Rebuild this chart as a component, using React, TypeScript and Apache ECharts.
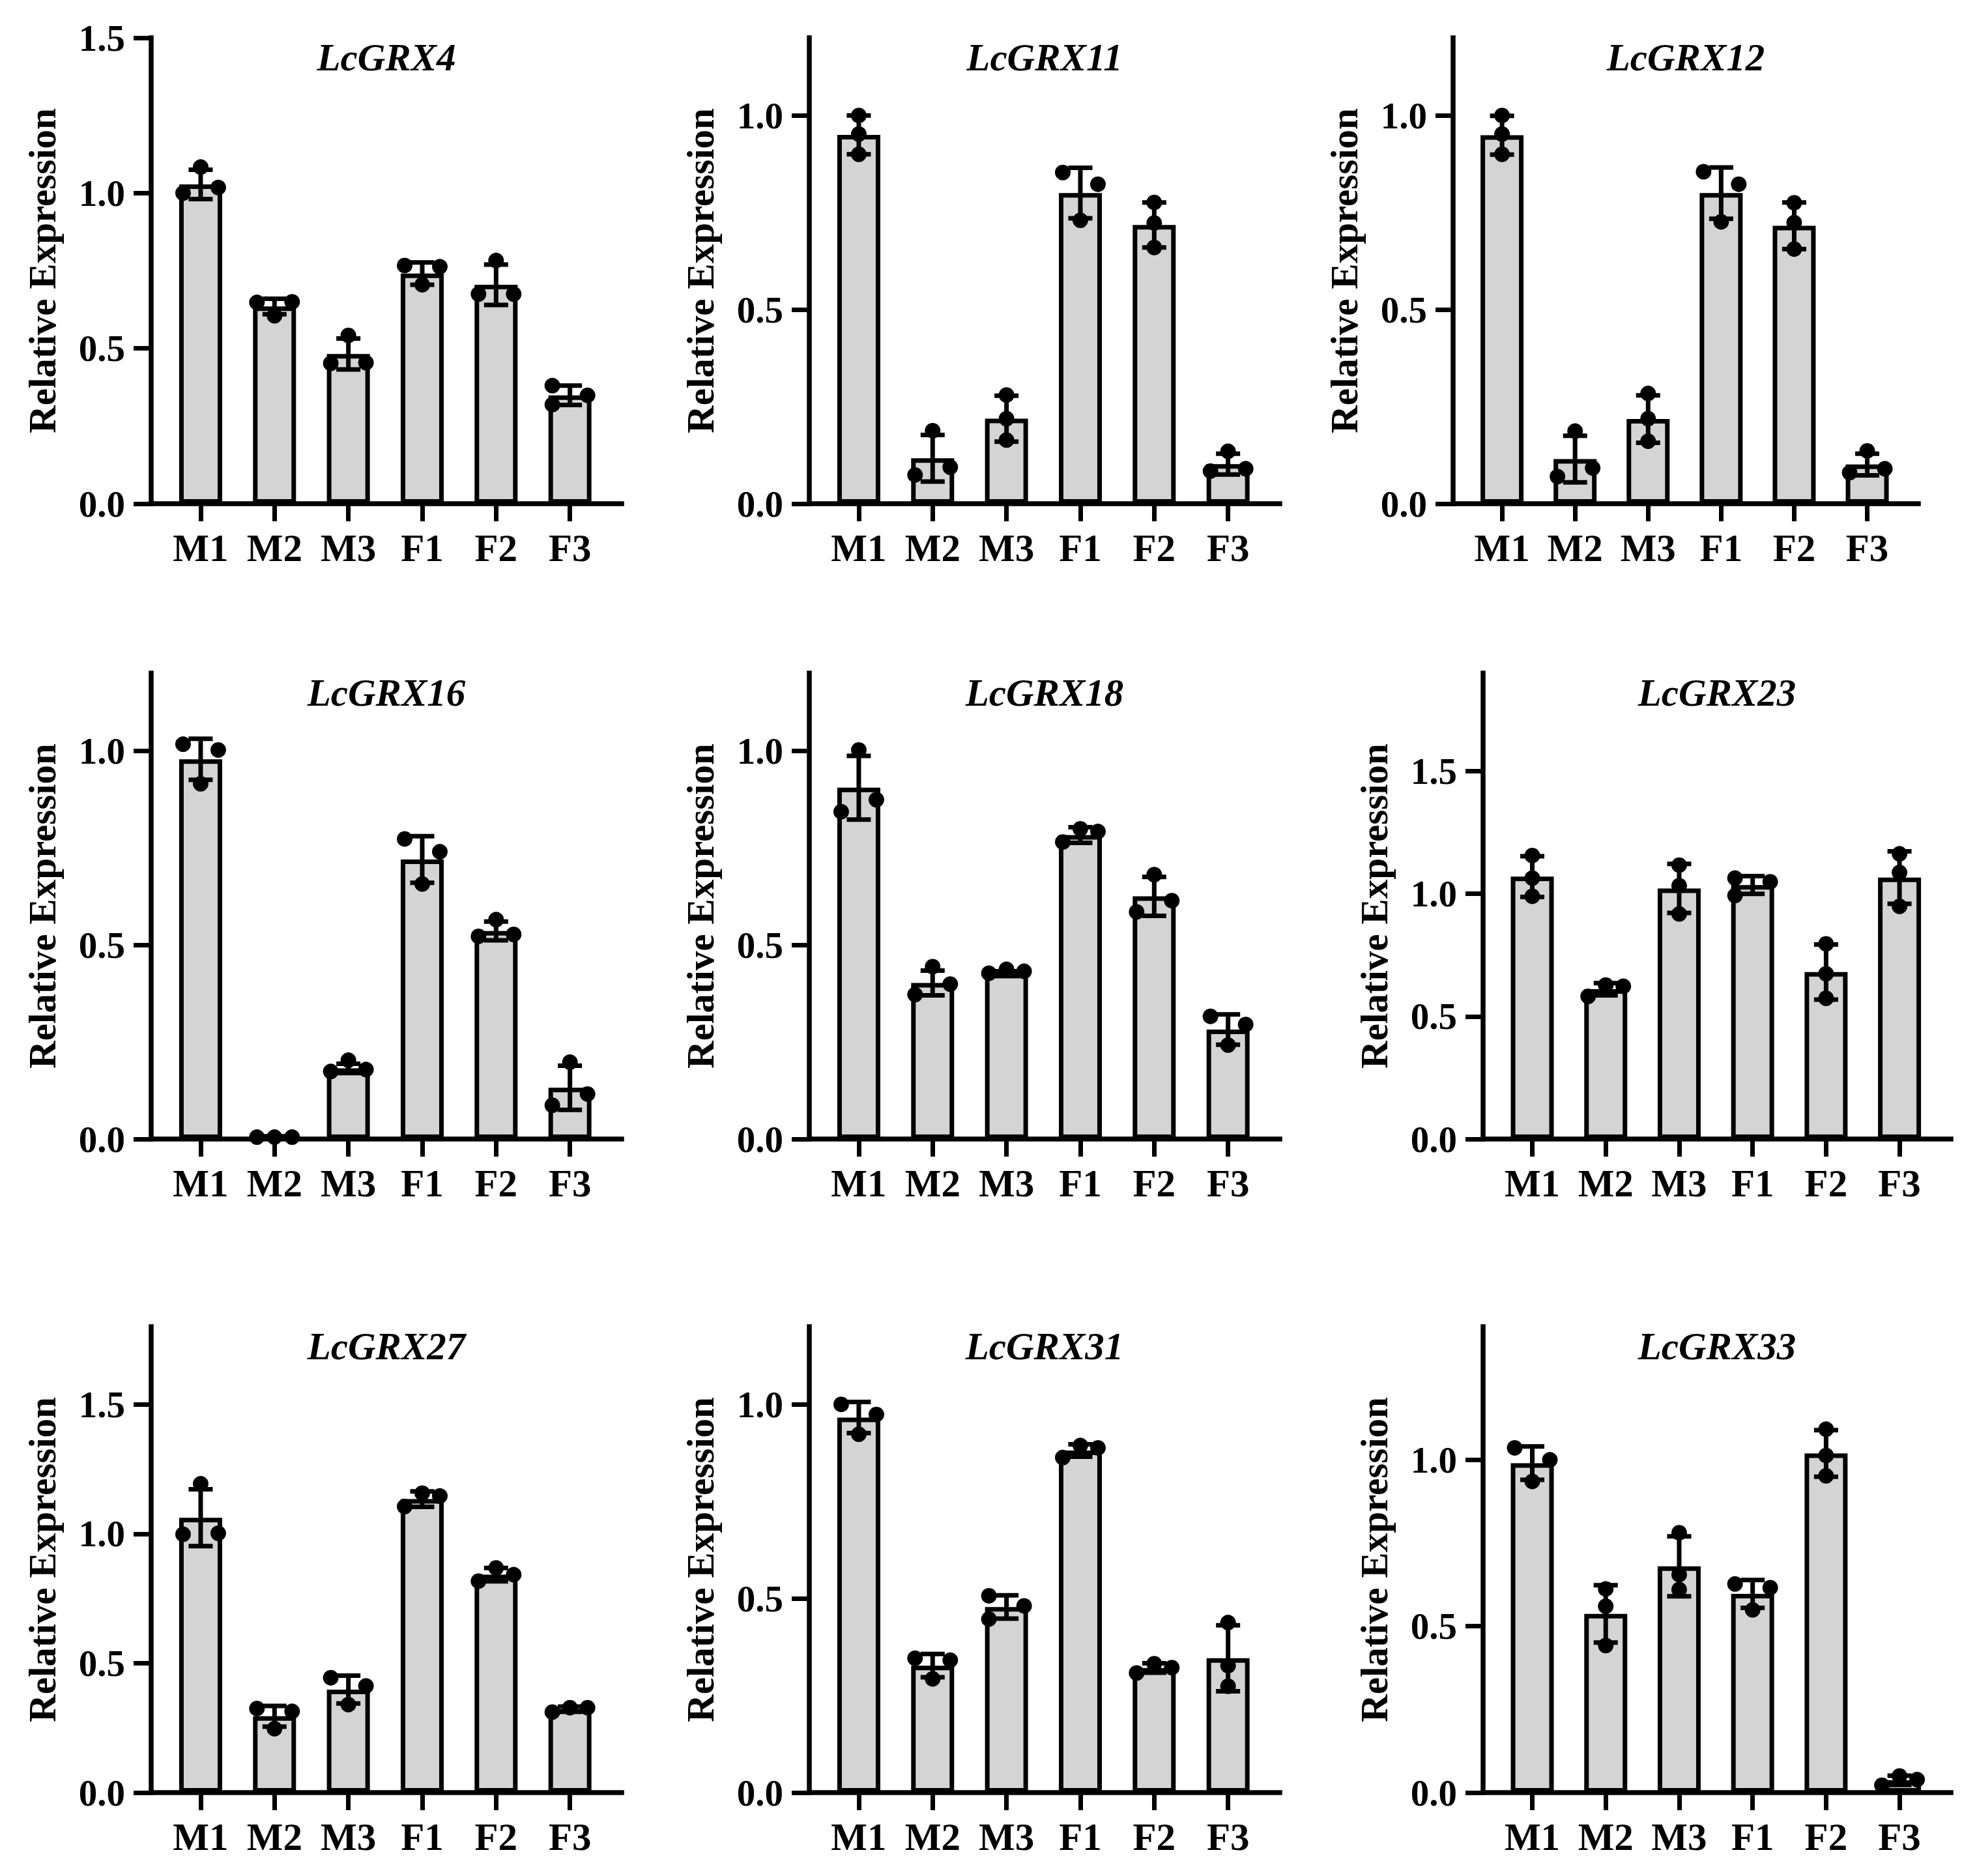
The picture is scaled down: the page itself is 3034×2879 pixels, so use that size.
import React, { useEffect, useRef } from "react";
import * as echarts from "echarts";

// ---------- DATA ----------
const categories = ["M1", "M2", "M3", "F1", "F2", "F3"];
const geneNames = ["LcGRX4", "LcGRX11", "LcGRX12", "LcGRX16", "LcGRX18", "LcGRX23", "LcGRX27", "LcGRX31", "LcGRX33"];
const yAxisMax = [1.5, 1.2, 1.2, 1.2, 1.2, 1.9, 1.8, 1.2, 1.4];
const yTickValues = [
  [0, 0.5, 1.0, 1.5],
  [0, 0.5, 1.0],
  [0, 0.5, 1.0],
  [0, 0.5, 1.0],
  [0, 0.5, 1.0],
  [0, 0.5, 1.0, 1.5],
  [0, 0.5, 1.0, 1.5],
  [0, 0.5, 1.0],
  [0, 0.5, 1.0],
];
const yAxisTitle = "Relative Expression";

const grx4Mean = [1.028, 0.635, 0.482, 0.741, 0.705, 0.349];
const grx4Sd = [0.047, 0.025, 0.05, 0.036, 0.065, 0.031];
const grx4Dots = [[1.0, 1.084, 1.018], [0.648, 0.605, 0.65], [0.452, 0.542, 0.454], [0.767, 0.705, 0.763], [0.675, 0.783, 0.675], [0.38, 0.349, 0.319]];

const grx11Mean = [0.95, 0.117, 0.219, 0.80, 0.718, 0.102];
const grx11Sd = [0.05, 0.06, 0.059, 0.065, 0.058, 0.027];
const grx11Dots = [[1.0, 0.952, 0.9], [0.074, 0.188, 0.094], [0.28, 0.219, 0.164], [0.853, 0.73, 0.823], [0.776, 0.723, 0.66], [0.084, 0.135, 0.09]];

const grx12Mean = [0.949, 0.115, 0.218, 0.80, 0.716, 0.101];
const grx12Sd = [0.05, 0.06, 0.061, 0.066, 0.06, 0.028];
const grx12Dots = [[1.0, 0.952, 0.9], [0.07, 0.187, 0.092], [0.284, 0.219, 0.161], [0.855, 0.726, 0.823], [0.775, 0.724, 0.656], [0.08, 0.136, 0.09]];

const grx16Mean = [0.978, 0.005, 0.182, 0.72, 0.536, 0.132];
const grx16Sd = [0.053, 0.002, 0.012, 0.06, 0.024, 0.057];
const grx16Dots = [[1.017, 0.915, 1.002], [0.005, 0.005, 0.005], [0.174, 0.203, 0.179], [0.773, 0.657, 0.74], [0.522, 0.565, 0.527], [0.087, 0.198, 0.116]];

const grx18Mean = [0.905, 0.402, 0.426, 0.783, 0.625, 0.282];
const grx18Sd = [0.082, 0.032, 0.006, 0.02, 0.05, 0.039];
const grx18Dots = [[0.843, 1.002, 0.874], [0.372, 0.444, 0.399], [0.427, 0.437, 0.432], [0.765, 0.799, 0.792], [0.585, 0.681, 0.614], [0.316, 0.242, 0.295]];

const grx23Mean = [1.07, 0.611, 1.022, 1.036, 0.681, 1.066];
const grx23Sd = [0.083, 0.025, 0.1, 0.036, 0.112, 0.107];
const grx23Dots = [[1.156, 1.064, 0.99], [0.582, 0.628, 0.623], [1.117, 1.033, 0.918], [1.064, 1.049, 0.993], [0.796, 0.674, 0.574], [1.163, 1.087, 0.949]];

const grx27Mean = [1.062, 0.295, 0.398, 1.134, 0.842, 0.322];
const grx27Sd = [0.11, 0.04, 0.054, 0.03, 0.026, 0.01];
const grx27Dots = [[0.998, 1.193, 1.002], [0.325, 0.247, 0.314], [0.444, 0.34, 0.412], [1.105, 1.157, 1.146], [0.817, 0.868, 0.842], [0.311, 0.328, 0.328]];

const grx31Mean = [0.966, 0.327, 0.478, 0.881, 0.321, 0.346];
const grx31Sd = [0.04, 0.03, 0.03, 0.016, 0.012, 0.085];
const grx31Dots = [[1.0, 0.923, 0.974], [0.346, 0.293, 0.341], [0.507, 0.447, 0.481], [0.863, 0.894, 0.888], [0.308, 0.332, 0.322], [0.438, 0.327, 0.274]];

const grx33Mean = [0.99, 0.537, 0.68, 0.597, 1.019, 0.037];
const grx33Sd = [0.05, 0.086, 0.09, 0.042, 0.07, 0.014];
const grx33Dots = [[1.036, 0.935, 1.0], [0.612, 0.56, 0.442], [0.781, 0.655, 0.61], [0.627, 0.549, 0.616], [1.092, 1.013, 0.952], [0.022, 0.05, 0.039]];

const panelMeans = [grx4Mean, grx11Mean, grx12Mean, grx16Mean, grx18Mean, grx23Mean, grx27Mean, grx31Mean, grx33Mean];
const panelSds = [grx4Sd, grx11Sd, grx12Sd, grx16Sd, grx18Sd, grx23Sd, grx27Sd, grx31Sd, grx33Sd];
const panelDots = [grx4Dots, grx11Dots, grx12Dots, grx16Dots, grx18Dots, grx23Dots, grx27Dots, grx31Dots, grx33Dots];

// ---------- LAYOUT / STYLE ----------
const W = 3034;
const H = 2879;
const FONT = "'Liberation Serif', 'Times New Roman', serif";
const GRID_TOPS = [58, 1033, 2036];
const GRID_H = 715;
const GRID_LEFTS = [[232, 1242, 2230], [232, 1242, 2276], [232, 1242, 2276]];
const GRID_WIDTHS = [[722, 722, 714], [722, 722, 718], [722, 722, 718]];
const X_MIN = -0.67;
const X_MAX = 5.7;
const BAR_W = 66;
const DOT_SIZE = 24;
const OVERLAP_PX = 22;
const JITTER_PX = 27;
const LINE_W = 7.5;

function jitterSides(values: number[], thr: number): number[] {
  const n = values.length;
  const parent = values.map((_, k) => k);
  const find = (k: number): number => (parent[k] === k ? k : (parent[k] = find(parent[k])));
  for (let a = 0; a < n; a++)
    for (let b = a + 1; b < n; b++)
      if (Math.abs(values[a] - values[b]) < thr) parent[find(a)] = find(b);
  const groups: Record<number, number[]> = {};
  for (let k = 0; k < n; k++) {
    const r = find(k);
    (groups[r] = groups[r] || []).push(k);
  }
  const sides = new Array(n).fill(0);
  Object.values(groups).forEach((g) => {
    if (g.length === 2) {
      sides[g[0]] = -1;
      sides[g[1]] = 1;
    } else if (g.length === 3) {
      const sorted = [...g].sort((a, b) => values[a] - values[b]);
      if (values[sorted[2]] - values[sorted[0]] >= thr) {
        sides[sorted[0]] = -1;
        sides[sorted[2]] = -1;
        sides[sorted[1]] = 1;
      } else {
        sides[g[0]] = -1;
        sides[g[1]] = 0;
        sides[g[2]] = 1;
      }
    }
  });
  return sides;
}

function buildOption() {
  const grid: any[] = [];
  const xAxis: any[] = [];
  const yAxis: any[] = [];
  const series: any[] = [];
  const graphic: any[] = [];
  const catIdx = categories.map((_, j) => j);

  geneNames.forEach((gene, i) => {
    const r = Math.floor(i / 3);
    const c = i % 3;
    const left = GRID_LEFTS[r][c];
    const width = GRID_WIDTHS[r][c];
    const top = GRID_TOPS[r];
    grid.push({ left, top, width, height: GRID_H, containLabel: false });

    xAxis.push({
      type: "value",
      gridIndex: i,
      min: X_MIN,
      max: X_MAX,
      axisLine: { show: true, onZero: false, lineStyle: { color: "#000", width: LINE_W, cap: "square" } },
      axisTick: { show: true, customValues: catIdx, length: 27, lineStyle: { color: "#000", width: 7 } },
      axisLabel: {
        show: true,
        customValues: catIdx,
        formatter: (v: number) => categories[Math.round(v)] ?? "",
        fontFamily: FONT,
        fontWeight: "bold",
        fontSize: 59,
        color: "#000",
        margin: 38,
      },
      splitLine: { show: false },
    });

    yAxis.push({
      type: "value",
      gridIndex: i,
      min: 0,
      max: yAxisMax[i],
      name: yAxisTitle,
      nameLocation: "middle",
      nameGap: 138,
      nameTextStyle: { fontFamily: FONT, fontWeight: "bold", fontSize: 59, color: "#000" },
      axisLine: { show: true, onZero: false, lineStyle: { color: "#000", width: LINE_W, cap: "square" } },
      axisTick: { show: true, customValues: yTickValues[i], length: 27, lineStyle: { color: "#000", width: 7 } },
      axisLabel: {
        show: true,
        customValues: yTickValues[i],
        formatter: (v: number) => v.toFixed(1),
        fontFamily: FONT,
        fontWeight: "bold",
        fontSize: 57,
        color: "#000",
        margin: 40,
      },
      splitLine: { show: false },
    });

    const means = panelMeans[i];
    const sds = panelSds[i];
    const dots = panelDots[i];

    series.push({
      type: "bar",
      xAxisIndex: i,
      yAxisIndex: i,
      barWidth: BAR_W,
      z: 2,
      itemStyle: { color: "#d4d4d4", borderColor: "#000", borderWidth: 7, opacity: 1 },
      data: means.map((m, j) => [j, m]),
    });

    series.push({
      type: "custom",
      xAxisIndex: i,
      yAxisIndex: i,
      z: 3,
      encode: { x: 0, y: 1 },
      data: means.map((m, j) => [j, m, sds[j]]),
      renderItem: (params: any, api: any) => {
        const x = api.value(0);
        const m = api.value(1);
        const s = api.value(2);
        const hi = api.coord([x, m + s]);
        const lo = api.coord([x, Math.max(0, m - s)]);
        const cap = 18.5;
        const style = { stroke: "#000", lineWidth: 7 };
        return {
          type: "group",
          children: [
            { type: "line", shape: { x1: hi[0], y1: hi[1], x2: lo[0], y2: lo[1] }, style },
            { type: "line", shape: { x1: hi[0] - cap, y1: hi[1], x2: hi[0] + cap, y2: hi[1] }, style },
            { type: "line", shape: { x1: lo[0] - cap, y1: lo[1], x2: lo[0] + cap, y2: lo[1] }, style },
          ],
        };
      },
    });

    const thr = (OVERLAP_PX / GRID_H) * yAxisMax[i];
    const offUnit = JITTER_PX / (width / (X_MAX - X_MIN));
    const scatterData: number[][] = [];
    dots.forEach((vals, j) => {
      const sides = jitterSides(vals, thr);
      vals.forEach((v, k) => scatterData.push([j + sides[k] * offUnit, v]));
    });
    series.push({
      type: "scatter",
      xAxisIndex: i,
      yAxisIndex: i,
      z: 4,
      symbol: "circle",
      symbolSize: DOT_SIZE,
      itemStyle: { color: "#000", opacity: 1 },
      data: scatterData,
    });

    graphic.push({
      type: "text",
      x: left + width / 2,
      y: top + 30,
      style: {
        text: gene,
        fontFamily: FONT,
        fontWeight: "bold",
        fontStyle: "italic",
        fontSize: 59,
        fill: "#000",
        align: "center",
        verticalAlign: "middle",
      },
    });
  });

  return {
    animation: false,
    backgroundColor: "#ffffff",
    grid,
    xAxis,
    yAxis,
    series,
    graphic,
  };
}

export default function App() {
  const ref = useRef<HTMLDivElement>(null);
  useEffect(() => {
    if (!ref.current) return;
    const chart = echarts.init(ref.current, undefined, { renderer: "svg" });
    chart.setOption(buildOption() as any);
    return () => chart.dispose();
  }, []);
  return (
    <div
      ref={ref}
      style={{ position: "absolute", left: 0, top: 0, width: W, height: H, background: "#fff" }}
    />
  );
}
